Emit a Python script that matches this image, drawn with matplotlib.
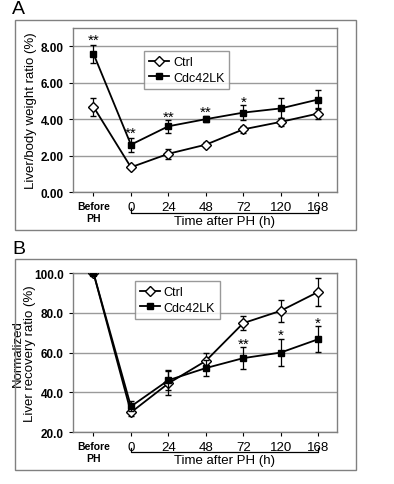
import numpy as np
import matplotlib
matplotlib.use("Agg")
import matplotlib.pyplot as plt
import matplotlib.transforms as mtransforms
from matplotlib.patches import Rectangle
from matplotlib.lines import Line2D

plt.rcParams['font.family'] = ['Liberation Sans', 'DejaVu Sans']

# ---- data ----
cats = ["Before\nPH", "0", "24", "48", "72", "120", "168"]

a_ctrl = [4.68, 1.36, 2.10, 2.60, 3.44, 3.85, 4.31]
a_ctrl_err = [0.50, 0.10, 0.28, 0.15, 0.18, 0.22, 0.30]
a_cdc = [7.59, 2.60, 3.61, 4.00, 4.36, 4.59, 5.08]
a_cdc_err = [0.50, 0.38, 0.37, 0.15, 0.40, 0.55, 0.50]
a_stars = {0: "**", 1: "**", 2: "**", 3: "**", 4: "*"}
a_star_y = [8.35, 3.25, 4.15, 4.40, 4.95]

b_ctrl = [100.0, 29.9, 44.5, 55.8, 74.8, 81.0, 90.5]
b_ctrl_err = [0.0, 2.0, 6.0, 4.0, 3.5, 5.5, 7.0]
b_cdc = [100.0, 32.9, 46.1, 52.2, 57.2, 60.0, 66.7]
b_cdc_err = [0.0, 2.5, 5.0, 4.0, 5.5, 7.0, 6.5]
b_stars = {4: "**", 5: "*", 6: "*"}
b_star_y = [64.5, 69.0, 75.0]

x = np.arange(len(cats))

fig = plt.figure(figsize=(3.94, 4.85), dpi=100)
gray = "#808080"


def panel(ax, ctrl, ctrl_err, cdc, cdc_err, stars, star_y, ylim, yticks, fmt, ylabel, lab_x, leg_pos):
    ax.errorbar(x, ctrl, yerr=ctrl_err, color="black", lw=1.3, marker="D", ms=5,
                mfc="white", mec="black", mew=1.0, capsize=2.5, elinewidth=0.9, zorder=3)
    ax.errorbar(x, cdc, yerr=cdc_err, color="black", lw=1.3, marker="s", ms=5,
                mfc="black", mec="black", capsize=2.5, elinewidth=0.9, zorder=4)
    for (i, s), yy in zip(stars.items(), star_y):
        ax.text(x[i], yy, s, ha="center", va="center", fontsize=11)
    ax.set_xlim(-0.55, 6.5)
    ax.set_ylim(*ylim)
    ax.set_yticks(yticks)
    ax.set_yticklabels([fmt % v for v in yticks], fontsize=8.5, fontweight="bold")
    ax.set_xticks(x)
    ax.set_xticklabels(cats, fontsize=9.5)
    ax.xaxis.get_majorticklabels()[0].set_fontsize(7.5)
    ax.xaxis.get_majorticklabels()[0].set_fontweight("bold")
    ax.yaxis.grid(True, color="#9a9a9a", lw=1.0)
    ax.set_axisbelow(True)
    for sp in ax.spines.values():
        sp.set_color(gray)
        sp.set_linewidth(1.0)
    ax.tick_params(colors="black", length=3, width=0.8)
    ax.set_ylabel(ylabel, fontsize=9.5, linespacing=1.0)
    ax.yaxis.set_label_coords(lab_x, 0.5)
    handles = [Line2D([], [], color="black", lw=1.3, marker="D", ms=5, mfc="white", mec="black"),
               Line2D([], [], color="black", lw=1.3, marker="s", ms=5, mfc="black")]
    leg = ax.legend(handles, ["Ctrl", "Cdc42LK"], loc="upper left", bbox_to_anchor=leg_pos,
                    fontsize=9, frameon=True, fancybox=False, edgecolor=gray,
                    handlelength=1.6, borderpad=0.4, labelspacing=0.3,
                    handletextpad=0.3, borderaxespad=0)
    leg.get_frame().set_linewidth(1.0)
    # bracket under hours
    tr = mtransforms.blended_transform_factory(ax.transData, ax.transAxes)
    ax.plot([x[1], x[1], x[6], x[6]], [-0.10, -0.125, -0.125, -0.10], color="black",
            lw=0.9, transform=tr, clip_on=False)
    ax.text((x[1] + x[6]) / 2, -0.175, "Time after PH (h)", transform=tr,
            ha="center", va="center", fontsize=9.5)


axA = fig.add_axes([0.185, 0.602, 0.670, 0.338])
panel(axA, a_ctrl, a_ctrl_err, a_cdc, a_cdc_err, a_stars, a_star_y,
      (0, 9), [0, 2, 4, 6, 8], "%.2f", "Liver/body weight ratio (%)", -0.135, (0.27, 0.86))

axB = fig.add_axes([0.185, 0.107, 0.670, 0.328])
panel(axB, b_ctrl, b_ctrl_err, b_cdc, b_cdc_err, b_stars, b_star_y,
      (20, 100), [20, 40, 60, 80, 100], "%.1f", "Normalized\nLiver recovery ratio (%)",
      -0.14, (0.235, 0.95))

# outer frames and panel letters
for y0, h in [(1 - 231 / 485, (231 - 21) / 485), (1 - 471 / 485, (471 - 260) / 485)]:
    fig.patches.append(Rectangle((15 / 394, y0), (356 - 15) / 394, h, transform=fig.transFigure,
                                 fill=False, edgecolor=gray, lw=1.0))
fig.text(12 / 394, 1 - 10 / 485, "A", fontsize=14, va="center", ha="left")
fig.text(12 / 394, 1 - 250 / 485, "B", fontsize=14, va="center", ha="left")

fig.savefig("out.png", dpi=100)
